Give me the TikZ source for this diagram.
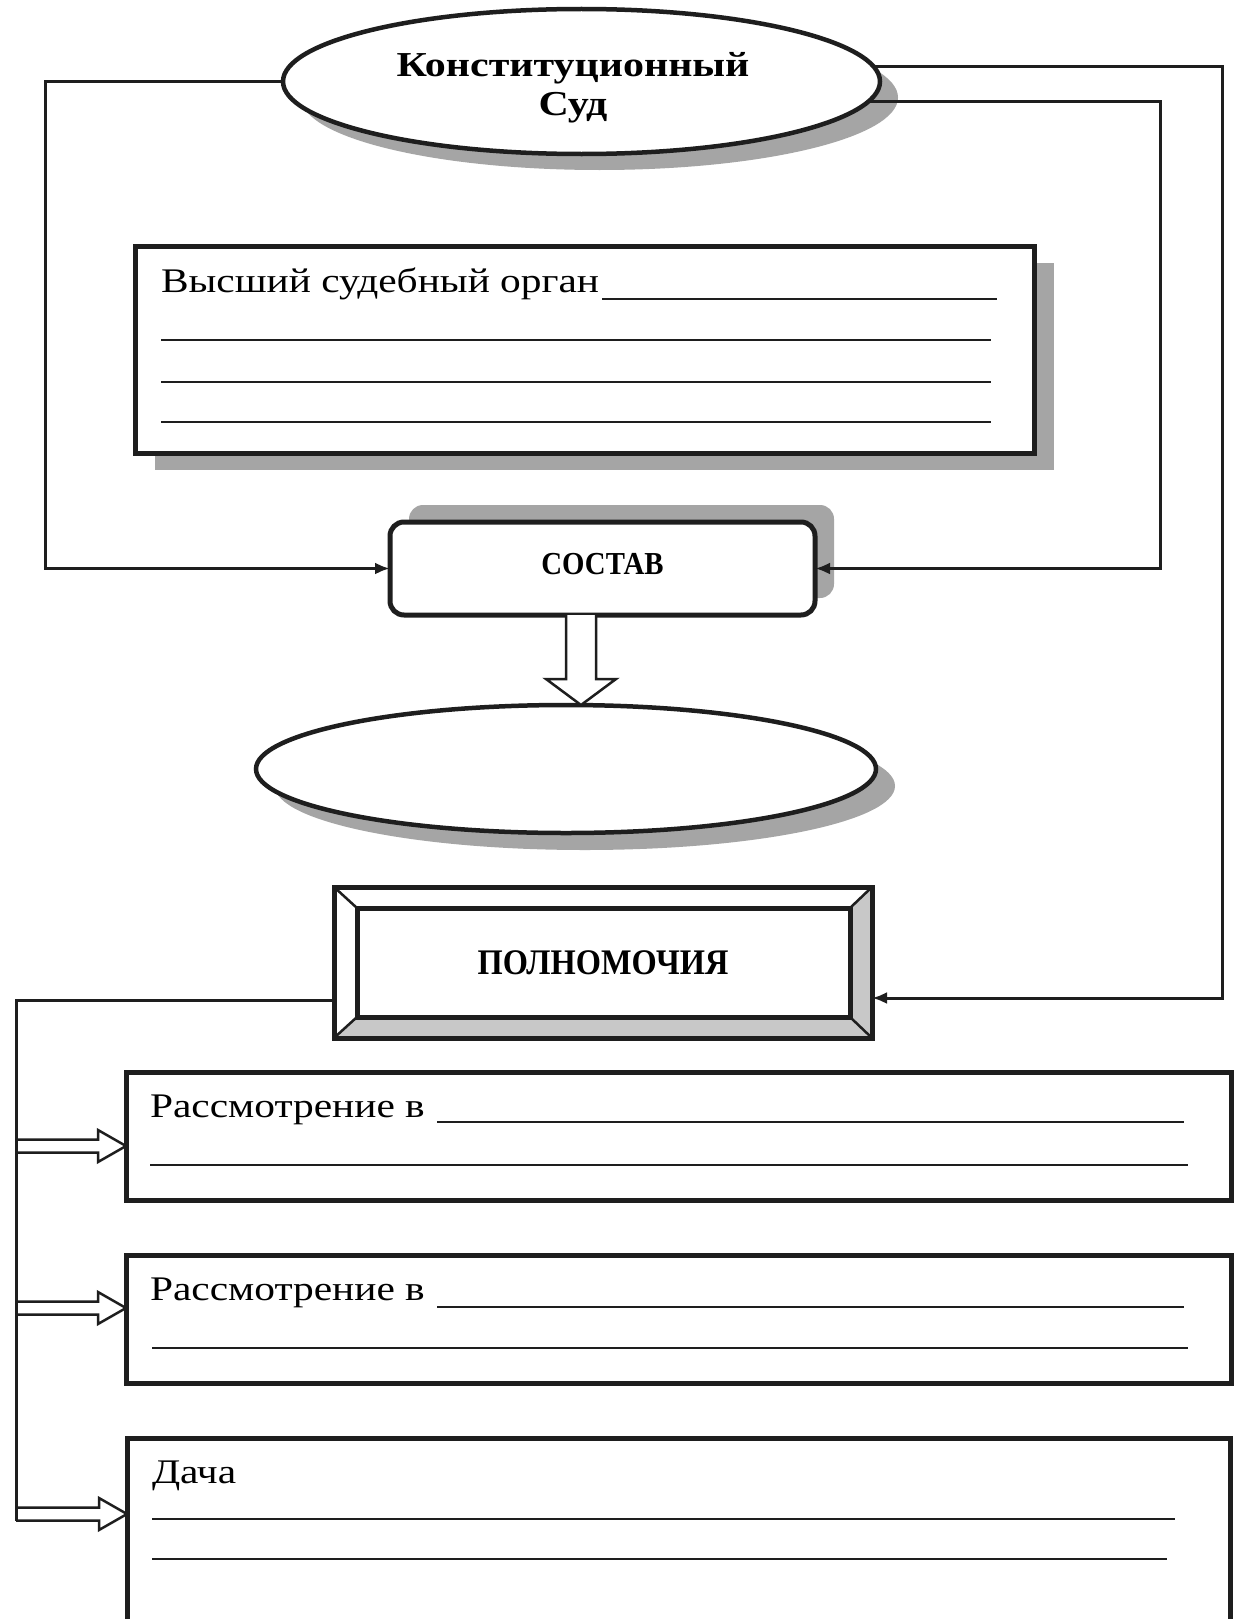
\documentclass[tikz,border=0pt]{standalone}
\usepackage{fontspec}
\setmainfont{Liberation Serif}
\newfontfamily\wideserif[FakeStretch=1.2]{Liberation Serif}
\newfontfamily\narrowserif[FakeStretch=0.9]{Liberation Serif}
\usetikzlibrary{shapes.geometric,arrows.meta,calc,shadows}
\definecolor{shadowgray}{RGB}{165,165,165}
\definecolor{bevelgray}{RGB}{200,200,200}
\definecolor{ink}{RGB}{30,30,30}
\newcommand\hollowright[2]{\draw[hollow] let \p1=(#1), \p2=(#2) in
  (\x1,\y1+6.5pt) -- (\x2-28pt,\y1+6.5pt) -- (\x2-28pt,\y1+16pt) -- (\x2,\y1)
  -- (\x2-28pt,\y1-16pt) -- (\x2-28pt,\y1-6.5pt) -- (\x1,\y1-6.5pt);}
\begin{document}
\begin{tikzpicture}[x=1pt,y=-1pt,
  every node/.style={inner sep=0pt,outer sep=0pt},
  oval/.style={ellipse,draw=ink,line width=4.5pt,fill=white},
  panel/.style={rectangle,draw=ink,line width=5pt,fill=white},
  conn/.style={draw=ink,line width=3pt,-{Latex[length=15pt,width=12pt]}},
  plain/.style={draw=ink,line width=3pt},
  blank/.style={draw=ink,line width=2pt},
  hollow/.style={draw=ink,line width=2.5pt,fill=white,line join=miter},
  boxtext/.style={anchor=base west,font=\wideserif\fontsize{34.5}{42}\selectfont},
  headtext/.style={font=\narrowserif\bfseries\fontsize{36}{36}\selectfont}]
\useasboundingbox (0,0) rectangle (1234,1619);
\fill[white] (0,0) rectangle (1234,1619);
\clip (0,0) rectangle (1234,1619);

% top ellipse
\node[oval,minimum width=597,minimum height=145,
  drop shadow={shadow xshift=18pt,shadow yshift=-16pt,fill=shadowgray,opacity=1}]
  (ks) at (581.5,81.5) {};
\node[align=center,font=\wideserif\bfseries\fontsize{35}{39}\selectfont]
  (kst) at (573,88) {Конституционный\\Суд};

% box 1
\node[panel,minimum width=899,minimum height=207,
  drop shadow={shadow xshift=20pt,shadow yshift=-17pt,fill=shadowgray,opacity=1}]
  (vs) at (584.5,349.5) {};
\node[boxtext] (vst) at (161,292) {Высший судебный орган};
\draw[blank] (602,299) -- (997,299);
\draw[blank] (161,340) -- (991,340);
\draw[blank] (161,382) -- (991,382);
\draw[blank] (161,422) -- (991,422);

% sostav
\node[panel,rounded corners=14pt,minimum width=425,minimum height=93,
  font=\narrowserif\bfseries\fontsize{32}{32}\selectfont,
  drop shadow={shadow xshift=19pt,shadow yshift=17pt,fill=shadowgray,opacity=1}]
  (sos) at (602.5,568.5) {\raisebox{9pt}{СОСТАВ}};

% second ellipse
\node[oval,minimum width=620,minimum height=128,
  drop shadow={shadow xshift=19pt,shadow yshift=-17pt,fill=shadowgray,opacity=1}]
  (res) at (566,769) {};

% hollow down arrow
\coordinate (va) at (581,0);
\draw[hollow] let \p1=(va |- sos.south), \p2=(va |- res.north) in
  (\x1-15pt,\y1) -- (\x1-15pt,\y2+26pt) -- (\x1-35pt,\y2+26pt) -- (\x1,\y2)
  -- (\x1+35pt,\y2+26pt) -- (\x1+15pt,\y2+26pt) -- (\x1+15pt,\y1);

% polnomochiya (bevel frame)
\node[rectangle,draw=ink,line width=5pt,fill=white,minimum width=538,
  minimum height=151,headtext] (pol) at (603,962.5) {\raisebox{-8pt}{ПОЛНОМОЧИЯ}};
\coordinate (pNW) at ($(pol.north west)+(23,21)$);
\coordinate (pNE) at ($(pol.north east)+(-22,21)$);
\coordinate (pSW) at ($(pol.south west)+(23,-21)$);
\coordinate (pSE) at ($(pol.south east)+(-22,-21)$);
\fill[bevelgray] (pol.south west) -- (pol.south east) -- (pSE) -- (pSW) -- cycle;
\fill[bevelgray] (pol.south east) -- (pol.north east) -- (pNE) -- (pSE) -- cycle;
\draw[ink,line width=2.5pt] (pol.north west) -- (pNW) (pol.north east) -- (pNE)
  (pol.south west) -- (pSW) (pol.south east) -- (pSE);
\draw[ink,line width=5pt] (pNW) rectangle (pSE);
\draw[ink,line width=5pt] (pol.north west) rectangle (pol.south east);

% connectors from the top ellipse
\coordinate (Lt) at (45,0);
\coordinate (Rin) at (1160,0);
\coordinate (Rout) at (1222,998);
\draw[conn] (ks.west) -| (Lt |- sos.west) -- (sos.west);
\draw[conn] (ks.-4.2) -| (Rin |- sos.east) -- (sos.east);
\draw[conn] (ks.3.3) -| (Rout) -- (pol.east |- Rout);

% lower boxes
\node[panel,minimum width=1105,minimum height=128] (r1) at (678.5,1136) {};
\node[boxtext] (r1t) at (150,1117) {Рассмотрение в};
\draw[blank] (437,1122) -- (1184,1122);
\draw[blank] (150,1165) -- (1188,1165);

\node[panel,minimum width=1105,minimum height=128] (r2) at (678.5,1319) {};
\node[boxtext] (r2t) at (150,1300) {Рассмотрение в};
\draw[blank] (437,1307) -- (1184,1307);
\draw[blank] (152,1348) -- (1188,1348);

\node[panel,minimum width=1103,minimum height=220] (r3) at (678.5,1548) {};
\node[boxtext] (r3t) at (152,1483) {Дача};
\draw[blank] (152,1519) -- (1175,1519);
\draw[blank] (152,1559) -- (1167,1559);

% left branch with hollow arrows
\coordinate (Lb) at (16,1000);
\coordinate (Le) at (16,1521);
\coordinate (a1) at (16,1146);
\coordinate (a2) at (16,1308);
\coordinate (a3) at (16,1514);
\hollowright{a1}{r1.west |- a1}
\hollowright{a2}{r2.west |- a2}
\hollowright{a3}{r3.west |- a3}
\draw[plain] (pol.west |- Lb) -- (Lb) -- (Le);
\end{tikzpicture}
\end{document}
